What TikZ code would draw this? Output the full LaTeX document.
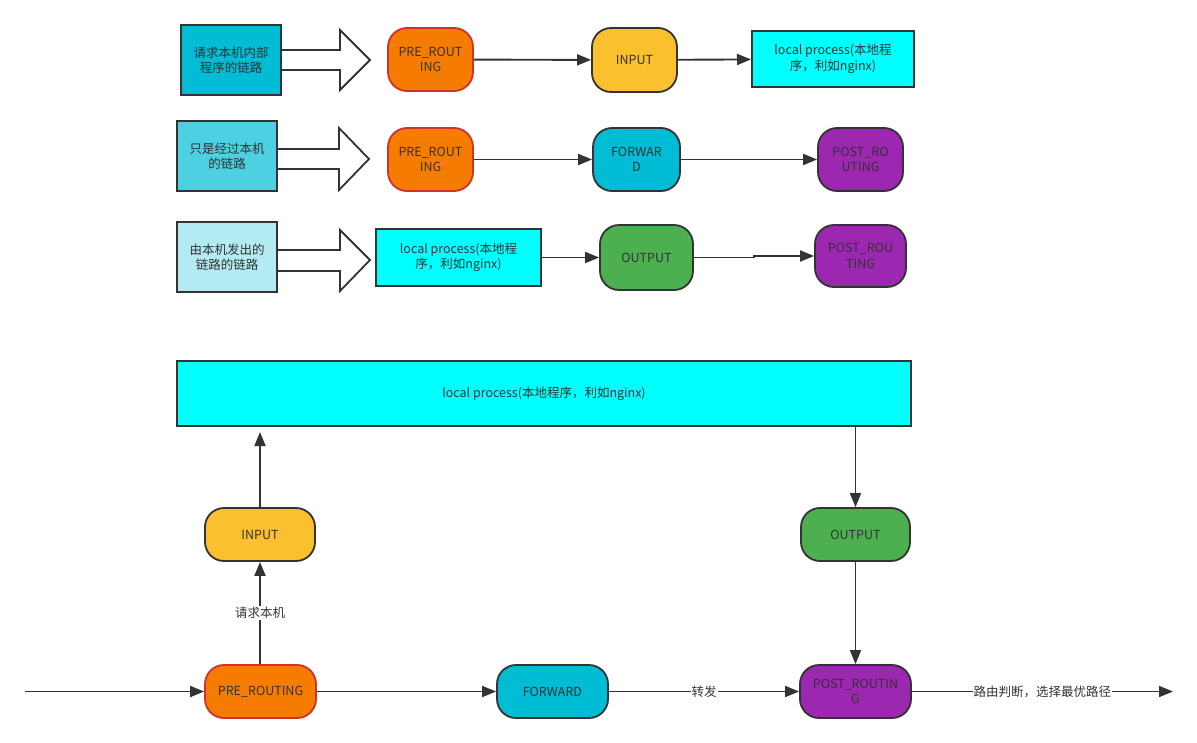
\documentclass[tikz,border=0pt]{standalone}
\usepackage{fontspec}
\setmainfont{Noto Sans CJK SC}
\usetikzlibrary{arrows.meta}
\definecolor{ln}{HTML}{333333}
\definecolor{cteal}{HTML}{00BCD4}
\definecolor{cteal2}{HTML}{4DD0E1}
\definecolor{cteal3}{HTML}{B2EBF2}
\definecolor{ccyan}{HTML}{00FFFF}
\definecolor{corange}{HTML}{F57C00}
\definecolor{cred}{HTML}{D32F2F}
\definecolor{cyellow}{HTML}{FBC02D}
\definecolor{cgreen}{HTML}{4CAF50}
\definecolor{cpurple}{HTML}{9C27B0}
\begin{document}
\begin{tikzpicture}[x=1pt,y=-1pt,
  every node/.style={font=\fontsize{12.5}{15.5}\selectfont, text=ln, align=center, inner sep=0pt},
  sqbox/.style={draw=ln, line width=2pt, rectangle},
  rbox/.style={draw=ln, line width=1.8pt, rounded corners=19pt},
  prebox/.style={rbox, draw=cred, fill=corange},
  conn/.style={draw=ln, line width=1.9pt, -{Triangle[length=14pt,width=11pt]}},
  bigarrow/.style={draw=ln, line width=1.8pt, fill=white, line join=miter},
  lbl/.style={fill=white, inner sep=1pt}
]
\useasboundingbox (0,0) rectangle (1197,742);
\fill[white] (0,0) rectangle (1197,742);

% ---------- row 1 ----------
\node[sqbox, fill=cteal, minimum width=100pt, minimum height=70pt] (a1) at (231,60) {请求本机内部\\程序的链路};
\node[prebox, minimum width=85pt, minimum height=63pt] (pre1) at (430.5,59.5) {PRE\_ROUT\\ING};
\node[rbox, fill=cyellow, minimum width=85pt, minimum height=64pt] (in1) at (634.5,60) {INPUT};
\node[sqbox, fill=ccyan, minimum width=162pt, minimum height=56pt] (lp1) at (833,59) {local process(本地程\\序，利如nginx)};
\draw[bigarrow] (a1.east |- 0,50) -- (340,50) -- (340,30) -- (370,60) -- (340,90) -- (340,70) -- (a1.east |- 0,70);
\draw[conn] (pre1) -- (in1);
\draw[conn] (in1) -- (lp1);

% ---------- row 2 ----------
\node[sqbox, fill=cteal2, minimum width=100pt, minimum height=70pt] (b1) at (227,156) {只是经过本机\\的链路};
\node[prebox, minimum width=85pt, minimum height=63pt] (pre2) at (430.5,159.5) {PRE\_ROUT\\ING};
\node[rbox, fill=cteal, minimum width=87pt, minimum height=63pt] (fw2) at (636.5,159.5) {FORWAR\\D};
\node[rbox, fill=cpurple, minimum width=85pt, minimum height=63pt] (po2) at (860.5,159.5) {POST\_RO\\UTING};
\draw[bigarrow] (b1.east |- 0,149) -- (339,149) -- (339,128) -- (369,159) -- (339,190) -- (339,169) -- (b1.east |- 0,169);
\draw[conn] (pre2) -- (fw2);
\draw[conn] (fw2) -- (po2);

% ---------- row 3 ----------
\node[sqbox, fill=cteal3, minimum width=100pt, minimum height=70pt] (c1) at (227,257) {由本机发出的\\链路的链路};
\node[sqbox, fill=ccyan, minimum width=165pt, minimum height=57pt] (lp3) at (458.5,257.5) {local process(本地程\\序，利如nginx)};
\node[rbox, fill=cgreen, minimum width=93pt, minimum height=65pt] (out3) at (646.5,257.5) {OUTPUT};
\node[rbox, fill=cpurple, minimum width=91pt, minimum height=62pt] (po3) at (860.5,256) {POST\_ROU\\TING};
\draw[bigarrow] (c1.east |- 0,250) -- (340,250) -- (340,230) -- (370,260) -- (340,291) -- (340,271) -- (c1.east |- 0,271);
\draw[conn] (lp3) -- (out3);
\draw[conn] (out3.east) -- (754,257.5) -- (754,256) -- (po3.west);

% ---------- bottom ----------
\node[sqbox, fill=ccyan, minimum width=734pt, minimum height=65pt] (lpb) at (544,393.5) {local process(本地程序，利如nginx)};
\node[rbox, fill=cyellow, minimum width=110pt, minimum height=53pt] (inb) at (260,534.5) {INPUT};
\node[rbox, fill=cgreen, minimum width=109pt, minimum height=53pt] (outb) at (855.5,534.5) {OUTPUT};
\node[prebox, minimum width=111pt, minimum height=53pt] (preb) at (260.5,691.5) {PRE\_ROUTING};
\node[rbox, fill=cteal, minimum width=111pt, minimum height=53pt] (fwb) at (552.5,691.5) {FORWARD};
\node[rbox, fill=cpurple, minimum width=111pt, minimum height=53pt] (pob) at (855.5,691.5) {POST\_ROUTIN\\G};
\coordinate (start) at (25,691.5);
\coordinate (finish) at (1173,691.5);
\coordinate (uptip) at (260,432);

\draw[conn] (start) -- (preb);
\draw[conn] (preb) -- (fwb);
\draw[conn] (fwb) -- node[lbl, pos=0.5] {转发} (pob);
\draw[conn] (pob) -- node[lbl, pos=0.5] {路由判断，选择最优路径} (finish);
\draw[conn] (preb.north -| inb) -- node[lbl, pos=0.5] {请求本机} (inb.south);
\draw[conn] (inb.north) -- (uptip);
\draw[conn] (lpb.south -| outb) -- (outb.north);
\draw[conn] (outb.south) -- (pob.north);
\end{tikzpicture}
\end{document}
